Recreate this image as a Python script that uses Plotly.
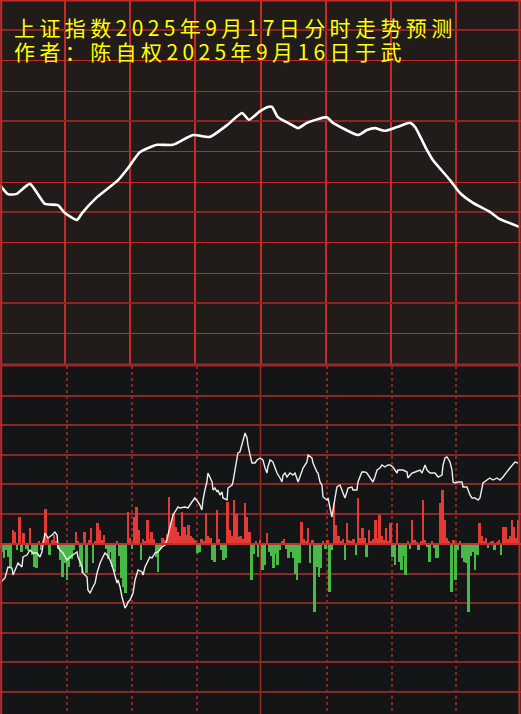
import plotly.graph_objects as go

# ---------------- data ----------------
# top panel: predicted index path (minute, index level)
top_minutes = [0, 3.7, 7.4, 13.8, 20.7, 26.7, 29.9, 35.5, 37.8, 44.7, 54.4, 59.0, 64.5, 72.3, 79.7,
               88.9, 96.7, 104.6, 111.5, 114.7, 119.8, 123.4, 125.3, 128.0, 133.6, 137.3, 141.4,
               150.6, 152.9, 164.9, 169.0, 172.7, 177.3, 182.9, 188.9, 191.2, 196.7, 199.4, 207.3,
               211.9, 217.9, 225.7, 229.4, 239.5]
top_index = [3847.2, 3844.8, 3844.8, 3847.5, 3842.2, 3841.9, 3839.8, 3838.0, 3839.8, 3844.0, 3848.5,
             3851.7, 3855.9, 3857.8, 3857.8, 3860.4, 3859.9, 3863.0, 3866.2, 3864.4, 3866.7, 3867.8,
             3867.8, 3865.1, 3863.3, 3862.2, 3863.6, 3865.1, 3863.8, 3860.4, 3861.7, 3862.2, 3861.5,
             3862.5, 3863.6, 3862.5, 3856.4, 3853.8, 3848.5, 3845.1, 3842.5, 3840.1, 3838.5, 3836.1]

# bottom panel: intraday strength line (minute, value)
low_minutes = [0.0, 2.3, 3.7, 5.5, 6.0, 6.9, 8.3, 10.1, 10.6, 12.4, 13.8, 15.2, 17.0, 18.4, 19.3, 19.8,
               20.7, 22.1, 24.0, 25.3, 26.3, 26.7, 27.6, 29.0, 30.9, 32.2, 33.6, 35.5, 35.9, 37.8, 38.2,
               40.1, 40.5, 41.5, 42.8, 43.8, 44.7, 46.1, 47.4, 48.4, 49.3, 50.7, 52.0, 53.0, 53.9, 54.4,
               55.3, 56.2, 56.7, 57.6, 58.5, 59.0, 59.9, 61.3, 62.2, 63.1, 63.6, 65.4, 65.9, 66.8, 67.7,
               69.1, 70.0, 71.4, 72.8, 74.6, 76.0, 76.9, 77.4, 79.2, 79.7, 82.0, 82.9, 85.2, 86.6, 88.4,
               89.8, 91.2, 92.1, 93.0, 93.5, 94.4, 95.3, 95.8, 96.7, 97.7, 98.1, 99.0, 100.0, 100.4,
               101.3, 102.3, 102.7, 104.6, 105.0, 106.9, 107.3, 109.2, 109.6, 110.5, 111.5, 112.9,
               113.8, 114.2, 115.2, 116.1, 117.5, 118.4, 119.8, 121.1, 122.1, 123.0, 123.4, 124.4,
               125.7, 126.7, 127.6, 129.0, 129.9, 130.4, 131.3, 132.2, 133.6, 135.0, 135.9, 137.3,
               138.2, 139.6, 141.4, 141.9, 143.7, 144.2, 146.0, 146.5, 147.4, 148.3, 148.8, 150.6,
               151.1, 152.0, 152.9, 153.4, 154.3, 155.2, 156.6, 157.5, 158.9, 159.8, 160.3, 162.1,
               162.6, 164.4, 164.9, 166.7, 168.1, 169.0, 170.4, 171.8, 172.7, 173.7, 175.0, 176.0,
               177.3, 178.7, 179.6, 181.0, 182.9, 183.3, 185.6, 187.5, 187.9, 189.8, 191.2, 193.5,
               194.4, 195.8, 196.7, 198.1, 200.4, 201.8, 203.6, 204.1, 205.0, 205.9, 207.3, 208.2,
               208.7, 209.6, 211.0, 212.8, 213.3, 215.1, 216.5, 217.4, 218.8, 220.2, 221.1, 222.0,
               222.5, 224.3, 225.7, 227.1, 228.9, 230.3, 231.7, 234.9, 237.2, 238.6]
low_values = [-39, -34, -23, -24, -31, -26, -19, -23, -13, -11, -6, -9, -9, -13, -8, -1,
              11, 6, 9, 12, 9, -3, -6, -9, -16, -13, -11, -8, -13, -23, -29,
              -33, -46, -49, -43, -39, -29, -19, -13, -9, -11, -16, -24, -33, -39, -36,
              -43, -53, -58, -64, -61, -58, -56, -49, -36, -29, -26, -28, -31, -23, -19,
              -13, -14, -9, -8, -3, -1, 4, 9, 24, 29, 37, 36, 37, 36, 42,
              46, 42, 39, 34, 44, 54, 62, 71, 67, 62, 54, 56, 52, 54,
              49, 52, 46, 44, 56, 59, 62, 84, 91, 92, 101, 111,
              106, 99, 89, 81, 81, 84, 86, 84, 76, 71, 77, 84,
              82, 76, 71, 66, 62, 69, 71, 67, 71, 69, 71, 62,
              67, 76, 82, 89, 86, 81, 72, 71, 62, 59, 47, 44,
              46, 37, 27, 34, 44, 57, 59, 54, 46, 52, 56, 57,
              54, 54, 62, 72, 72, 71, 66, 62, 67, 74, 76, 79,
              77, 79, 79, 77, 71, 74, 74, 72, 66, 71, 72, 74,
              71, 79, 74, 71, 71, 67, 69, 79, 86, 87, 82, 74,
              62, 61, 62, 62, 57, 57, 49, 46, 46, 44, 46, 56,
              61, 64, 66, 64, 66, 64, 67, 76, 82, 81]

# bottom panel: per-minute net flow bars (minutes 0..239)
flow = [-4, -8, -14, -6, -13, -23, 14, 12, -6, 27, -8, 11, -5, -7, 16, -11, -23, -24, 3, -6,
        4, 35, 7, -11, 4, 9, 3, -5, -16, -33, -19, -36, -23, -15, -6, 12, 3, -23, -29, 12,
        -29, 4, 16, -19, 3, 21, 14, 4, 9, -5, -15, -8, -23, -28, 3, -12, -34, -43, -49, 32,
        6, -5, 27, 37, 14, -16, 5, 3, 24, 5, 12, 5, -13, -28, -5, 6, 4, 10, 47, 21,
        31, 17, 12, 8, 32, 17, 9, 19, 8, 6, 4, -9, -8, 5, 3, 31, 8, 6, -16, -18,
        34, 5, -6, -16, -14, 42, 14, 8, 44, 30, 7, 8, 5, 41, 27, 12, -36, -10, 3, -13,
        4, -26, -21, 11, -8, -12, -24, -10, -21, -6, 3, 5, -5, -14, -8, -14, -30, -36, -19, 22,
        5, 3, 16, -19, 4, -68, -23, -33, -24, 3, -5, 4, -48, -6, 41, 19, 8, 3, 5, -16,
        21, 4, 3, 5, -11, 46, 6, 16, 6, -13, 14, 3, 5, 24, 6, 29, 8, 4, 16, 3,
        21, -13, -21, 21, -18, -26, -12, -31, 3, -5, 24, 4, 2, -6, 3, 44, 4, -3, -18, 3,
        -4, -14, -14, 41, 54, 24, 6, 3, -48, 4, -36, -6, 3, -14, -18, -19, -68, -12, -8, -26,
        -11, 21, 8, 3, 6, -4, 2, 3, -6, 2, 4, -11, 17, 17, 5, 8, 24, 17, 6, 24]
flow_minutes = list(range(len(flow)))

title_line1 = "上证指数2025年9月17日分时走势预测"
title_line2 = "作者：陈自权2025年9月16日于武"

# ---------------- style ----------------
W, H = 521, 714
TOP_BG = "#211b1a"
BOT_BG = "#141517"
RED_GRID = "#c42a2a"
DARK_GRID = "#8e2424"
BOT_GRID = "#8a2828"
UP = "#e33a36"
DOWN = "#48b848"

top_dom = [1 - 364 / H, 1]
bot_dom = [0, 348 / H]

fig = go.Figure()

fig.add_trace(go.Bar(
    x=flow_minutes, y=flow, width=0.9,
    marker=dict(color=[UP if v >= 0 else DOWN for v in flow], line=dict(width=0)),
    xaxis="x2", yaxis="y2", showlegend=False, hoverinfo="skip"))

fig.add_trace(go.Scatter(
    x=low_minutes, y=low_values, mode="lines",
    line=dict(color="#eeeeee", width=1.4),
    xaxis="x2", yaxis="y2", showlegend=False, hoverinfo="skip"))

fig.add_trace(go.Scatter(
    x=top_minutes, y=top_index, mode="lines",
    line=dict(color="#ffffff", width=2.6, shape="spline", smoothing=0.5),
    xaxis="x", yaxis="y", showlegend=False, hoverinfo="skip"))

shapes = [
    # panel backgrounds
    dict(type="rect", xref="paper", yref="paper", x0=0, x1=1, y0=top_dom[0], y1=1,
         fillcolor=TOP_BG, line=dict(width=0), layer="below"),
    dict(type="rect", xref="paper", yref="paper", x0=0, x1=1, y0=0, y1=bot_dom[1],
         fillcolor=BOT_BG, line=dict(width=0), layer="below"),
    # solid centre line in the lower panel
    dict(type="line", xref="x2", yref="paper", x0=120, x1=120, y0=0, y1=bot_dom[1],
         line=dict(color="#9a2a2a", width=1.5), layer="between"),
    # borders
    dict(type="line", xref="paper", yref="paper", x0=0, x1=1, y0=1 - 0.7 / H, y1=1 - 0.7 / H,
         line=dict(color=RED_GRID, width=1.5)),
    dict(type="line", xref="paper", yref="paper", x0=1.2 / W, x1=1.2 / W, y0=0, y1=1,
         line=dict(color=RED_GRID, width=2)),
    dict(type="line", xref="paper", yref="paper", x0=1 - 1.5 / W, x1=1 - 1.5 / W, y0=0, y1=1,
         line=dict(color=RED_GRID, width=2)),
    dict(type="line", xref="paper", yref="paper", x0=0, x1=1, y0=1 - 365 / H, y1=1 - 365 / H,
         line=dict(color="#9c2828", width=3)),
    # zero line over the bars
    dict(type="line", xref="paper", yref="y2", x0=0, x1=1, y0=0, y1=0,
         line=dict(color="#c03030", width=2)),
]

fig.update_layout(
    width=W, height=H,
    margin=dict(l=0, r=0, t=0, b=0),
    paper_bgcolor=BOT_BG,
    plot_bgcolor="rgba(0,0,0,0)",
    showlegend=False,
    bargap=0,
    shapes=shapes,
    xaxis=dict(domain=[0, 1], range=[0, 240], anchor="y",
               tickmode="linear", tick0=0, dtick=30,
               showgrid=True, gridcolor=RED_GRID, gridwidth=1.5,
               showticklabels=False, ticks="", zeroline=False, showline=False, fixedrange=True),
    yaxis=dict(domain=top_dom, range=[3800, 3896], anchor="x",
               tickmode="linear", tick0=3816, dtick=24,
               showgrid=True, gridcolor=DARK_GRID, gridwidth=2.2,
               minor=dict(tickmode="linear", tick0=3800, dtick=8, showgrid=True,
                          gridcolor=RED_GRID, gridwidth=1.3),
               showticklabels=False, ticks="", zeroline=False, showline=False, fixedrange=True),
    xaxis2=dict(domain=[0, 1], range=[0, 240], anchor="y2",
                tickmode="array", tickvals=[30.9, 60.8, 90.8, 150.5, 180.5, 210.2],
                showgrid=True, gridcolor="#7c2a2a", gridwidth=1.5, griddash="dot",
                showticklabels=False, ticks="", zeroline=False, showline=False, fixedrange=True),
    yaxis2=dict(domain=bot_dom, range=[-170, 178], anchor="x2",
                tickmode="array",
                tickvals=[-147.5, -118, -88.5, -59, -29.5, 30, 60, 89.5, 119, 148.5],
                showgrid=True, gridcolor=BOT_GRID, gridwidth=2,
                showticklabels=False, ticks="", zeroline=False, showline=False, fixedrange=True),
    annotations=[
        dict(text=title_line1, xref="paper", yref="paper", x=12 / W, y=1 - 27 / H,
             xanchor="left", yanchor="middle", showarrow=False,
             font=dict(family="Noto Sans CJK SC", size=21, color="#ffff00")),
        dict(text=title_line2, xref="paper", yref="paper", x=12 / W, y=1 - 51 / H,
             xanchor="left", yanchor="middle", showarrow=False,
             font=dict(family="Noto Sans CJK SC", size=21, color="#ffff00")),
    ],
)

post = (
    "document.body.style.margin='0';"
    "document.querySelectorAll('.annotation-text').forEach(function(t){"
    "var b0=t.getBBox();"
    "t.setAttribute('text-anchor','start');t.style.textAnchor='start';"
    "t.setAttribute('x', b0.x);"
    "t.style.letterSpacing='4.4px';"
    "});"
)
fig.write_html("out.html", post_script=post, config={"displayModeBar": False})
